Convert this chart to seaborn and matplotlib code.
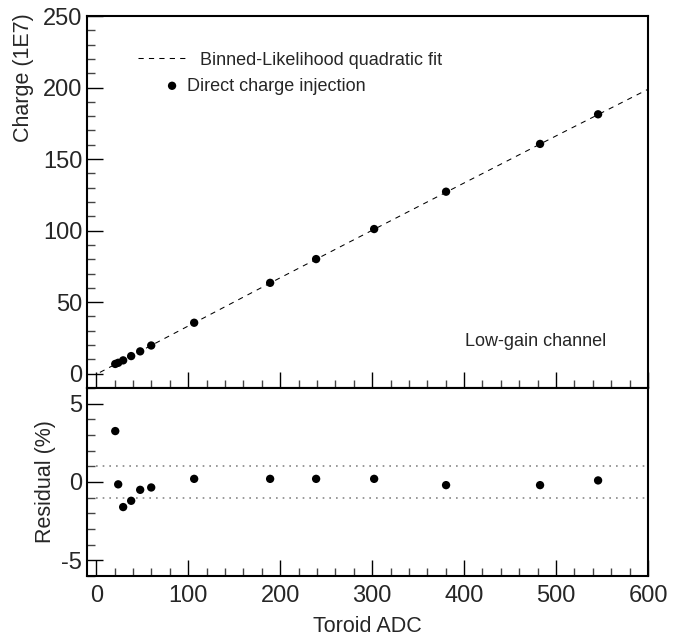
import matplotlib
matplotlib.use("Agg")
import matplotlib.pyplot as plt
from matplotlib.ticker import MultipleLocator
import seaborn as sns

# values
toroid_adc = [20.7, 23.9, 29.3, 38.0, 47.8, 59.8, 106.5, 189.1, 239.1, 302.2, 380.4, 482.6, 545.7]
charge = [6.8, 7.6, 9.3, 12.3, 15.6, 19.7, 35.6, 63.5, 80.1, 101.1, 127.2, 160.6, 181.3]
residual = [3.25, -0.15, -1.6, -1.2, -0.5, -0.35, 0.2, 0.2, 0.2, 0.2, -0.2, -0.2, 0.1]

# dashed fit curve, read at a few places along the line
fit_adc = [4, 100, 200, 300, 400, 500, 600]
fit_charge = [0.9, 33.3, 67.0, 100.2, 133.3, 166.2, 198.8]

band_adc = [0, 600]

sns.set_theme(style="ticks")
plt.rcParams["font.family"] = ["Liberation Sans", "DejaVu Sans"]
plt.rcParams["axes.unicode_minus"] = False

fig = plt.figure(figsize=(6.73, 6.43), dpi=100)
ax_top = fig.add_axes([0.1293, 0.3966, 0.8336, 0.5785])
ax_bot = fig.add_axes([0.1293, 0.1042, 0.8336, 0.2924])

sns.lineplot(x=fit_adc, y=fit_charge, ax=ax_top, color="black", lw=0.75,
             linestyle=(0, (5, 5)), label="Binned-Likelihood quadratic fit", sort=False)
sns.scatterplot(x=toroid_adc, y=charge, ax=ax_top, color="black", s=36,
                edgecolor="none", label="Direct charge injection", zorder=3)

sns.scatterplot(x=toroid_adc, y=residual, ax=ax_bot, color="black", s=36,
                edgecolor="none", zorder=3)
for lvl in (1, -1):
    sns.lineplot(x=band_adc, y=[lvl, lvl], ax=ax_bot, color="#888888", lw=1.2,
                 linestyle=(0, (1, 3)))

# two separate legend rows, as in the reference
handles, labels = ax_top.get_legend_handles_labels()
ax_top.get_legend().remove()
leg1 = ax_top.legend([handles[0]], [labels[0]], loc="center left",
                     bbox_to_anchor=(0.0909, 0.8817), frameon=False, fontsize=13,
                     borderpad=0, borderaxespad=0, handlelength=2.6, handletextpad=0.83)
ax_top.add_artist(leg1)
ax_top.legend([handles[1]], [labels[1]], loc="center left",
              bbox_to_anchor=(0.1355, 0.8118), frameon=False, fontsize=13,
              borderpad=0, borderaxespad=0, handlelength=1.0, handletextpad=0.33)

ax_top.text(0.674, 0.126, "Low-gain channel", transform=ax_top.transAxes,
            fontsize=13, ha="left", va="center")

ax_top.set_xlim(-10, 600)
ax_top.set_ylim(-10, 250)
ax_bot.set_xlim(-10, 600)
ax_bot.set_ylim(-6, 6)

ax_top.xaxis.set_major_locator(MultipleLocator(100))
ax_top.xaxis.set_minor_locator(MultipleLocator(20))
ax_top.yaxis.set_major_locator(MultipleLocator(50))
ax_top.yaxis.set_minor_locator(MultipleLocator(10))
ax_bot.xaxis.set_major_locator(MultipleLocator(100))
ax_bot.xaxis.set_minor_locator(MultipleLocator(20))
ax_bot.yaxis.set_major_locator(MultipleLocator(5))
ax_bot.yaxis.set_minor_locator(MultipleLocator(1))

for ax in (ax_top, ax_bot):
    ax.tick_params(which="major", direction="in", length=11.5, width=1,
                   labelsize=17, pad=3.5, color="black")
    ax.tick_params(which="minor", direction="in", length=5.8, width=1, color="#444444")
    for sp in ax.spines.values():
        sp.set_linewidth(1.5)
        sp.set_color("black")
ax_top.tick_params(axis="x", which="both", labelbottom=False)
ax_bot.tick_params(axis="x", which="major", pad=6.5)

ax_top.set_ylabel("Charge (1E7)", fontsize=15.5, loc="top")
ax_top.yaxis.set_label_coords(-0.0945, 1.008)
ax_bot.set_ylabel("Residual (%)", fontsize=15.5)
ax_bot.yaxis.set_label_coords(-0.055, 0.5)
ax_bot.set_xlabel("Toroid ADC", fontsize=15.5)
ax_bot.xaxis.set_label_coords(0.5, -0.215)

fig.savefig("out.png", dpi=100)
